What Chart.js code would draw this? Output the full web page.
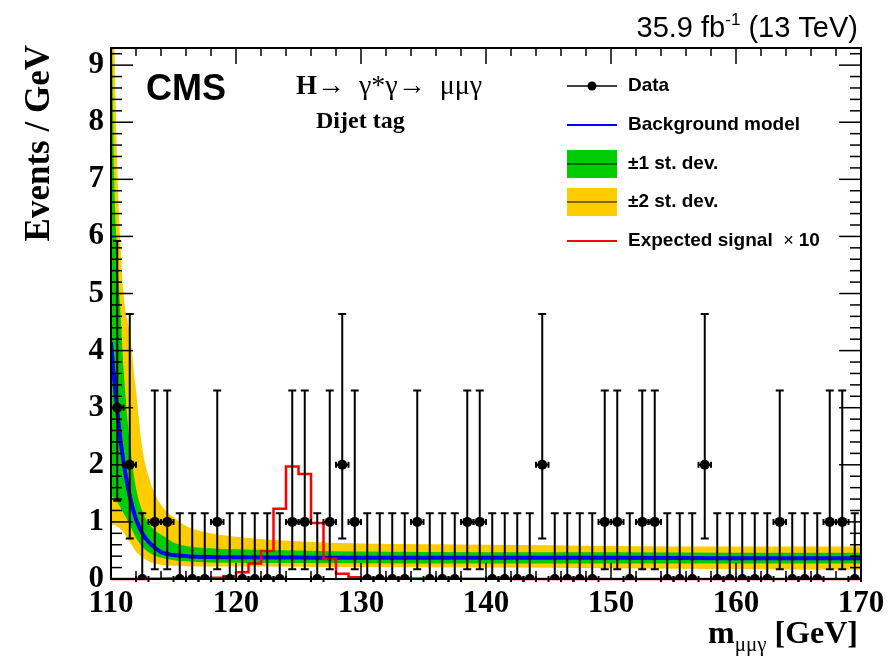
<!DOCTYPE html>
<html><head><meta charset="utf-8">
<script src="https://cdn.jsdelivr.net/npm/chart.js@4.4.1/dist/chart.umd.min.js"></script>
<style>html,body{margin:0;padding:0;background:#fff;}</style>
</head><body>
<canvas id="c" width="892" height="662"></canvas>
<script>
// ---- data ----
const binCenters = [110.5,111.5,112.5,113.5,114.5,115.5,116.5,117.5,118.5,119.5,
  120.5,121.5,122.5,123.5,124.5,125.5,126.5,127.5,128.5,129.5,
  130.5,131.5,132.5,133.5,134.5,135.5,136.5,137.5,138.5,139.5,
  140.5,141.5,142.5,143.5,144.5,145.5,146.5,147.5,148.5,149.5,
  150.5,151.5,152.5,153.5,154.5,155.5,156.5,157.5,158.5,159.5,
  160.5,161.5,162.5,163.5,164.5,165.5,166.5,167.5,168.5,169.5];
const dataCounts = [3,2,0,1,1,0,0,0,1,0,
  0,0,0,0,1,1,0,1,2,1,
  0,0,0,0,1,0,0,0,1,1,
  0,0,0,0,2,0,0,0,0,1,
  1,0,1,1,0,0,0,2,0,0,
  0,0,0,1,0,0,0,1,1,0];
// error bar extents per count
const errLowByCount  = [0, 0.17, 0.71, 1.37];
const errHighByCount = [1.15, 3.30, 4.64, 5.92];

const signalEdges = [110,111,112,113,114,115,116,117,118,119,
  120,121,122,123,124,125,126,127,128,129,
  130,131,132,133,134,135,136,137,138,139,
  140,141,142,143,144,145,146,147,148,149,
  150,151,152,153,154,155,156,157,158,159,
  160,161,162,163,164,165,166,167,168,169,170];
const signalValues = [0,0,0,0.005,0.008,0.01,0.01,0.015,0.02,0.05,
  0.12,0.27,0.49,1.23,1.97,1.84,0.98,0.35,0.09,0.03,
  0.015,0.01,0.01,0.008,0.007,0.006,0.005,0.004,0.004,0.003,
  0.003,0.003,0.002,0.002,0.002,0.002,0.002,0.001,0.001,0.001,
  0.001,0.001,0.001,0.001,0.001,0.001,0.001,0.001,0.001,0.001,
  0.001,0.001,0.001,0.001,0.001,0.001,0.001,0.001,0.001,0.001,0.001];

const bgX   = [110,110.25,110.5,110.75,111,111.5,112,112.5,113,113.5,114,115,116,118,120,125,130,140,150,160,170];
const bgFit = [4.15,3.5,2.95,2.45,2.05,1.45,1.05,0.8,0.65,0.55,0.47,0.42,0.40,0.385,0.38,0.375,0.37,0.37,0.37,0.365,0.365];
const band1Up = [11,7.1,5.7,4.7,3.7,2.4,1.6,1.2,0.98,0.85,0.78,0.64,0.58,0.54,0.52,0.5,0.48,0.47,0.47,0.46,0.46];
const band1Lo = [1.45,1.42,1.35,1.25,1.15,0.95,0.72,0.57,0.47,0.41,0.37,0.33,0.31,0.29,0.285,0.28,0.275,0.27,0.27,0.27,0.27];
const band2Up = [13,9.6,7.2,5.9,5.0,4.3,3.3,2.3,1.8,1.5,1.3,1.08,0.93,0.8,0.74,0.66,0.62,0.60,0.58,0.57,0.57];
const band2Lo = [0.95,0.95,0.92,0.88,0.82,0.65,0.48,0.38,0.31,0.27,0.25,0.23,0.225,0.22,0.22,0.215,0.21,0.2,0.19,0.175,0.16];

const xTickLabels = [110,120,130,140,150,160,170];
const yTickLabels = [0,1,2,3,4,5,6,7,8,9];

// ---- build ----
const pts = (xs, ys) => xs.map((v,i)=>({x:v, y:ys[i]}));
const YELLOW = '#FFCC00', GREEN = '#00CC00';

const errorBars = {
  id:'errorBars',
  beforeDatasetDraw(chart, args){
    if (args.index !== 6) return;
    const {ctx, scales:{x,y}} = chart;
    ctx.save();
    ctx.strokeStyle = '#000'; ctx.lineWidth = 2;
    binCenters.forEach((c,i)=>{
      const n = dataCounts[i];
      const px = x.getPixelForValue(c);
      const lo = y.getPixelForValue(errLowByCount[n]);
      const hi = y.getPixelForValue(errHighByCount[n]);
      const py = y.getPixelForValue(n);
      ctx.beginPath();
      ctx.moveTo(px, lo); ctx.lineTo(px, hi);
      ctx.moveTo(px-4, hi); ctx.lineTo(px+4, hi);
      if (n > 0) { ctx.moveTo(px-4, lo); ctx.lineTo(px+4, lo); }
      const xl = x.getPixelForValue(c-0.5), xr = x.getPixelForValue(c+0.5);
      ctx.moveTo(xl, py); ctx.lineTo(xr, py);
      ctx.moveTo(xl, py-3); ctx.lineTo(xl, py+3);
      ctx.moveTo(xr, py-3); ctx.lineTo(xr, py+3);
      ctx.stroke();
    });
    ctx.restore();
  }
};

const decor = {
  id:'decor',
  afterDatasetsDraw(chart){
    const {ctx, chartArea:a, scales:{x,y}} = chart;
    ctx.save();
    ctx.strokeStyle = '#000'; ctx.lineWidth = 1.5;
    const seg = (x1,y1,x2,y2)=>{ctx.beginPath();ctx.moveTo(x1,y1);ctx.lineTo(x2,y2);ctx.stroke();};
    for (let v = 110; v <= 170; v += 2) {
      const px = x.getPixelForValue(v);
      const len = (v % 10 === 0) ? 16 : 8;
      seg(px, a.bottom, px, a.bottom - len);
      seg(px, a.top, px, a.top + len);
    }
    for (let k = 0; k <= 46; k++) {
      const v = k * 0.2;
      if (v > 9.3) break;
      const py = y.getPixelForValue(v);
      const len = (k % 5 === 0) ? 22 : 11;
      seg(a.left, py, a.left + len, py);
      seg(a.right, py, a.right - len, py);
    }
    ctx.lineWidth = 2;
    ctx.strokeRect(a.left, a.top, a.right - a.left, a.bottom - a.top);
    ctx.restore();
  },
  afterDraw(chart){
    const {ctx} = chart;
    ctx.save();
    ctx.fillStyle = '#000';
    ctx.textBaseline = 'alphabetic';
    // top-right lumi text
    const f1 = '29px "Liberation Sans Narrow", "Liberation Sans"', f1s = '17px "Liberation Sans Narrow", "Liberation Sans"';
    const t1 = '35.9 fb', t2 = '-1', t3 = ' (13 TeV)';
    ctx.font = f1; const w1 = ctx.measureText(t1).width, w3 = ctx.measureText(t3).width;
    ctx.font = f1s; const w2 = ctx.measureText(t2).width;
    let sx = 858 - (w1 + w2 + w3);
    ctx.font = f1; ctx.fillText(t1, sx, 37); sx += w1;
    ctx.font = f1s; ctx.fillText(t2, sx, 25); sx += w2;
    ctx.font = f1; ctx.fillText(t3, sx, 37);
    // CMS
    ctx.font = 'bold 36px "Liberation Sans"';
    ctx.fillText('CMS', 146, 100);
    // process
    ctx.font = 'bold 27px "Liberation Serif"';
    ctx.fillText('H', 296, 94);
    let hx = 296 + ctx.measureText('H').width;
    ctx.font = '28px "Liberation Serif"';
    ctx.fillText('\u2192  \u03B3*\u03B3\u2192  \u03BC\u03BC\u03B3', hx, 94);
    ctx.font = 'bold 24px "Liberation Serif"';
    ctx.fillText('Dijet tag', 316, 128);
    // y title
    ctx.save();
    ctx.translate(49, 45);
    ctx.rotate(-Math.PI/2);
    ctx.textAlign = 'right';
    ctx.font = 'bold 35px "Liberation Serif"';
    ctx.fillText('Events / GeV', 0, 0);
    ctx.restore();
    // x title
    ctx.font = 'bold 32px "Liberation Serif"';
    const wm = ctx.measureText('m').width, wg = ctx.measureText(' [GeV]').width;
    ctx.font = '21px "Liberation Serif"';
    const ws = ctx.measureText('\u03BC\u03BC\u03B3').width;
    let xx = 858 - (wm + ws + wg);
    ctx.font = 'bold 32px "Liberation Serif"'; ctx.fillText('m', xx, 643); xx += wm;
    ctx.font = '21px "Liberation Serif"'; ctx.fillText('\u03BC\u03BC\u03B3', xx, 651); xx += ws;
    ctx.font = 'bold 32px "Liberation Serif"'; ctx.fillText(' [GeV]', xx, 643);
    // legend
    const lx0 = 567, lx1 = 617, tx = 628;
    const rows = [86, 125, 164, 202, 241];
    ctx.textBaseline = 'middle';
    ctx.font = 'bold 19px "Liberation Sans"';
    ctx.lineWidth = 1.5; ctx.strokeStyle = '#000';
    ctx.beginPath(); ctx.moveTo(lx0, rows[0]); ctx.lineTo(lx1, rows[0]); ctx.stroke();
    ctx.beginPath(); ctx.arc((lx0+lx1)/2, rows[0], 4.5, 0, 2*Math.PI); ctx.fill();
    ctx.fillText('Data', tx, rows[0]);
    ctx.strokeStyle = '#0000FF'; ctx.lineWidth = 2;
    ctx.beginPath(); ctx.moveTo(lx0, rows[1]); ctx.lineTo(lx1, rows[1]); ctx.stroke();
    ctx.fillText('Background model', tx, rows[1]);
    ctx.fillStyle = GREEN; ctx.fillRect(lx0, rows[2]-14, lx1-lx0, 28);
    ctx.fillStyle = YELLOW; ctx.fillRect(lx0, rows[3]-14, lx1-lx0, 28);
    ctx.strokeStyle = '#000'; ctx.lineWidth = 1.2;
    ctx.beginPath(); ctx.moveTo(lx0, rows[2]); ctx.lineTo(lx1, rows[2]); ctx.stroke();
    ctx.beginPath(); ctx.moveTo(lx0, rows[3]); ctx.lineTo(lx1, rows[3]); ctx.stroke();
    ctx.fillStyle = '#000';
    ctx.fillText('\u00B11 st. dev.', tx, rows[2]);
    ctx.fillText('\u00B12 st. dev.', tx, rows[3]);
    ctx.strokeStyle = '#FF0000'; ctx.lineWidth = 2;
    ctx.beginPath(); ctx.moveTo(lx0, rows[4]); ctx.lineTo(lx1, rows[4]); ctx.stroke();
    ctx.fillText('Expected signal  ', tx, rows[4]);
    let ex = tx + ctx.measureText('Expected signal  ').width;
    ctx.font = '18px "Liberation Sans"'; ctx.fillText('\u00D7', ex, rows[4]);
    ex += ctx.measureText('\u00D7 ').width;
    ctx.font = 'bold 19px "Liberation Sans"'; ctx.fillText('10', ex, rows[4]);
    ctx.restore();
  }
};

const lineBase = {showLine:true, pointRadius:0, clip:0, cubicInterpolationMode:'monotone'};

new Chart(document.getElementById('c'), {
  type:'scatter',
  data:{datasets:[
    Object.assign({label:'band2Up', data:pts(bgX, band2Up), borderWidth:0, borderColor:'rgba(0,0,0,0)', backgroundColor:YELLOW, fill:'+1', order:10}, lineBase),
    Object.assign({label:'band2Lo', data:pts(bgX, band2Lo), borderWidth:0, borderColor:'rgba(0,0,0,0)', fill:false, order:10}, lineBase),
    Object.assign({label:'band1Up', data:pts(bgX, band1Up), borderWidth:0, borderColor:'rgba(0,0,0,0)', backgroundColor:GREEN, fill:'+1', order:8}, lineBase),
    Object.assign({label:'band1Lo', data:pts(bgX, band1Lo), borderWidth:0, borderColor:'rgba(0,0,0,0)', fill:false, order:8}, lineBase),
    Object.assign({label:'Background model', data:pts(bgX, bgFit), borderWidth:4, borderColor:'#0000FF', fill:false, order:6}, lineBase),
    {label:'Expected signal x 10', data:pts(signalEdges, signalValues), showLine:true, stepped:true, pointRadius:0, borderWidth:2.5, borderColor:'#FF0000', fill:false, order:4, clip:{left:0,right:0,top:0,bottom:3}},
    {label:'Data', data:pts(binCenters, dataCounts), showLine:false, pointRadius:5, pointHoverRadius:5, backgroundColor:'#000', borderColor:'#000', borderWidth:0, order:0}
  ]},
  options:{
    responsive:false, animation:false, devicePixelRatio:1,
    layout:{padding:{left:0, right:31, top:48, bottom:0}},
    plugins:{legend:{display:false}, tooltip:{enabled:false}},
    scales:{
      x:{type:'linear', min:110, max:170,
        grid:{display:false, drawTicks:false}, border:{display:false},
        ticks:{color:'#000', font:{family:'"Liberation Serif"', weight:'bold', size:31}, padding:6, maxRotation:0, autoSkip:false},
        afterBuildTicks:s=>{ s.ticks = xTickLabels.map(v=>({value:v})); },
        afterFit:s=>{ s.height = 83; }
      },
      y:{type:'linear', min:0, max:9.3,
        grid:{display:false, drawTicks:false}, border:{display:false},
        ticks:{color:'#000', font:{family:'"Liberation Serif"', weight:'bold', size:31}, padding:7, autoSkip:false},
        afterBuildTicks:s=>{ s.ticks = yTickLabels.map(v=>({value:v})); },
        afterFit:s=>{ s.width = 111; }
      }
    }
  },
  plugins:[errorBars, decor]
});
</script>
</body></html>
